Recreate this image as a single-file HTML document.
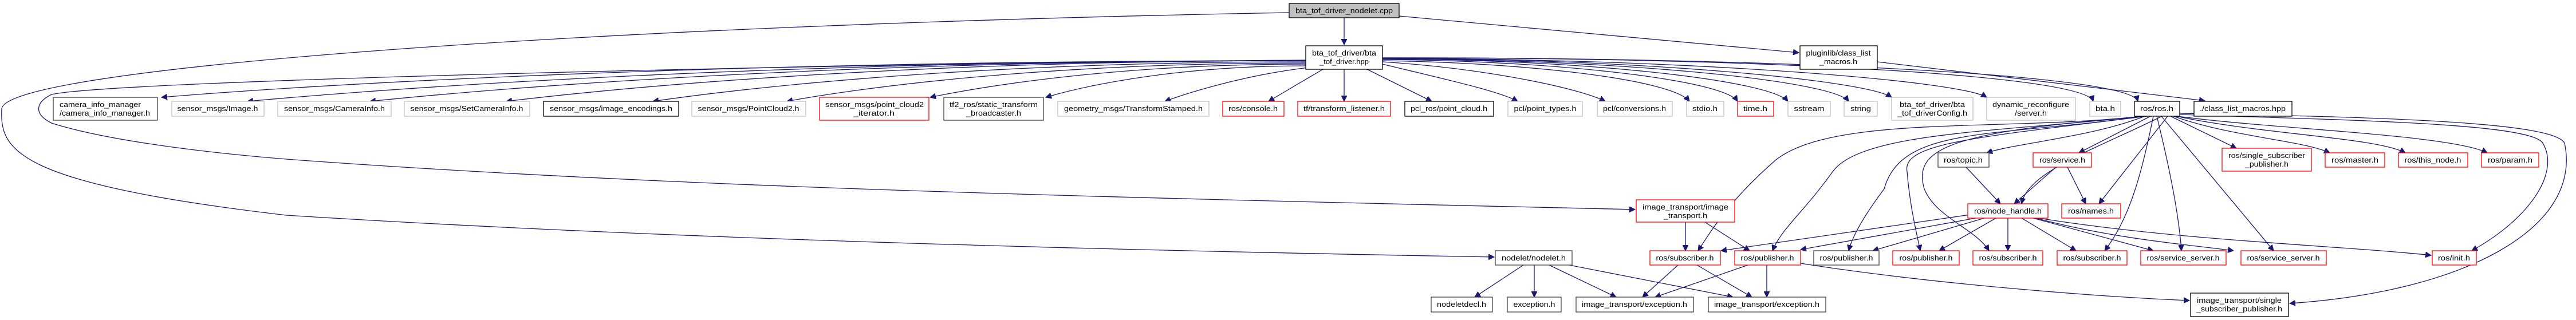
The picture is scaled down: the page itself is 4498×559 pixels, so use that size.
<!DOCTYPE html>
<html><head><meta charset="utf-8"><style>
html,body{margin:0;padding:0;background:#fff;}
svg{display:block;}
text{font-family:"Liberation Sans",sans-serif;font-size:13px;fill:#000;}
.e{fill:none;stroke:#191970;stroke-width:1.3;marker-end:url(#a);}
</style></head><body>
<svg width="4498" height="559" viewBox="0 0 4498 559" xmlns="http://www.w3.org/2000/svg">
<defs><marker id="a" markerUnits="userSpaceOnUse" markerWidth="12" markerHeight="10" refX="10" refY="5" orient="auto"><path d="M0,0 L10,5 L0,10 z" fill="#191970" stroke="#191970"/></marker></defs>
<g>
<path class="e" d="M2347,31 L2347,78"/>
<path class="e" d="M2443,28 L3141,92"/>
<path class="e" d="M3278,108 L3850,176"/>
<path class="e" d="M2251,22 C1000,45 10,120 3,190 C0,260 20,320 500,376 C1200,420 2000,438 2609,449"/>
<path class="e" d="M2280,105 C1500,110 200,140 90,165 C60,180 60,200 90,215 C200,250 400,270 500,278 C1200,330 2000,346 2855,366"/>
<path class="e" d="M2280,106 C1281,106 582,145 282,170"/>
<path class="e" d="M2280,106 C1356,106 709,152 432,177"/>
<path class="e" d="M2280,106 C1463,106 891,152 646,177"/>
<path class="e" d="M2280,106 C1582,106 1093,152 884,177"/>
<path class="e" d="M2280,108 C1710,108 1311,152 1140,177"/>
<path class="e" d="M2280,110 C1827,110 1510,152 1374,177"/>
<path class="e" d="M2280,112 C1952,112 1722,150 1624,170"/>
<path class="e" d="M2280,115 C2053,115 1894,150 1826,170"/>
<path class="e" d="M2285,118 C2180,130 2080,160 2034,177"/>
<path class="e" d="M2310,121 L2215,177"/>
<path class="e" d="M2347,121 L2347,177"/>
<path class="e" d="M2387,121 L2500,177"/>
<path class="e" d="M2414,112 C2530,140 2620,160 2650,177"/>
<path class="e" d="M2414,108 C2600,120 2760,155 2803,177"/>
<path class="e" d="M2414,106 C2680,110 2920,140 2950,177"/>
<path class="e" d="M2414,104 C2720,106 3010,140 3034,177"/>
<path class="e" d="M2414,103 C2770,104 3090,140 3122,177"/>
<path class="e" d="M2414,103 C2820,103 3200,140 3228,177"/>
<path class="e" d="M2414,102 C2860,102 3260,140 3303,170"/>
<path class="e" d="M2414,102 C2940,102 3420,140 3469,170"/>
<path class="e" d="M2414,101 C3050,100 3640,130 3655,177"/>
<path class="e" d="M2414,101 C3100,100 3720,130 3733,177"/>
<!-- ros.h -->
<path class="e" d="M3745,203 C3650,240 3520,250 3469,267"/>
<path class="e" d="M3755,203 L3630,267"/>
<path class="e" d="M3790,203 L3905,259"/>
<path class="e" d="M3795,203 C3900,240 4020,245 4068,267"/>
<path class="e" d="M3800,203 C3950,235 4150,240 4200,267"/>
<path class="e" d="M3802,203 C3960,225 4280,235 4343,267"/>
<path class="e" d="M3806,200 C4100,210 4420,215 4440,250 C4470,300 4420,380 4316,438"/>
<path class="e" d="M3806,198 C4200,205 4460,215 4478,250 C4510,400 4300,510 3998,530"/>
<path class="e" d="M3775,203 C3660,260 3540,300 3530,356"/>
<path class="e" d="M3785,203 L3665,356"/>
<path class="e" d="M3740,203 C3500,230 3200,200 3100,280 C3020,350 2990,400 2965,438"/>
<path class="e" d="M3742,203 C3500,230 3250,230 3200,300 C3150,370 3110,400 3095,438"/>
<path class="e" d="M3745,203 C3480,240 3320,220 3290,330 C3260,370 3235,410 3228,438"/>
<path class="e" d="M3748,203 C3450,240 3320,250 3330,300 C3335,360 3345,400 3353,438"/>
<path class="e" d="M3750,203 C3400,230 3340,260 3360,330 C3380,380 3450,400 3473,438"/>
<path class="e" d="M3760,203 C3740,300 3720,380 3675,438"/>
<path class="e" d="M3766,203 C3790,300 3805,380 3809,438"/>
<path class="e" d="M3774,203 L3970,438"/>
<!-- topic/service -->
<path class="e" d="M3433,292 L3493,356"/>
<path class="e" d="M3590,292 L3517,356"/>
<path class="e" d="M3610,292 L3642,356"/>
<!-- node_handle -->
<path class="e" d="M3440,375 L3005,438"/>
<path class="e" d="M3450,381 L3144,436"/>
<path class="e" d="M3465,381 L3270,438"/>
<path class="e" d="M3485,381 L3386,438"/>
<path class="e" d="M3506,381 L3506,438"/>
<path class="e" d="M3530,381 L3625,438"/>
<path class="e" d="M3550,381 L3760,438"/>
<path class="e" d="M3555,381 C3700,420 3850,430 3900,438"/>
<path class="e" d="M3560,381 C3800,420 4100,430 4245,446"/>
<!-- image_transport -->
<path class="e" d="M2943,388 L2943,438"/>
<path class="e" d="M2977,388 L3055,438"/>
<!-- nodelet -->
<path class="e" d="M2660,463 L2575,519"/>
<path class="e" d="M2679,463 L2679,519"/>
<path class="e" d="M2705,463 L2822,519"/>
<path class="e" d="M2740,463 L3026,519"/>
<!-- subscriber/publisher -->
<path class="e" d="M2930,463 L2868,519"/>
<path class="e" d="M2963,463 L3059,519"/>
<path class="e" d="M3052,463 L2890,519"/>
<path class="e" d="M3085,463 L3085,519"/>
<path class="e" d="M3144,460 C3400,500 3700,520 3823,525"/>
</g>
<g stroke-width="1.3">
<rect x="2251" y="6" width="192" height="25" fill="#bfbfbf" stroke="#000"/><text x="2347" y="23" text-anchor="middle" textLength="170" lengthAdjust="spacingAndGlyphs">bta_tof_driver_nodelet.cpp</text>
<rect x="2280" y="80" width="134" height="41" fill="#fff" stroke="#000"/><text x="2347" y="97" text-anchor="middle" textLength="112" lengthAdjust="spacingAndGlyphs">bta_tof_driver/bta</text><text x="2347" y="112" text-anchor="middle" textLength="86" lengthAdjust="spacingAndGlyphs">_tof_driver.hpp</text>
<rect x="3143" y="80" width="135" height="41" fill="#fff" stroke="#000"/><text x="3210" y="97" text-anchor="middle" textLength="113" lengthAdjust="spacingAndGlyphs">pluginlib/class_list</text><text x="3210" y="112" text-anchor="middle" textLength="66" lengthAdjust="spacingAndGlyphs">_macros.h</text>
<rect x="93" y="170" width="182" height="40" fill="#fff" stroke="#404040"/><text x="104" y="187" textLength="142" lengthAdjust="spacingAndGlyphs">camera_info_manager</text><text x="104" y="202" textLength="158" lengthAdjust="spacingAndGlyphs">/camera_info_manager.h</text>
<rect x="300" y="177" width="161" height="26" fill="#fff" stroke="#bfbfbf"/><text x="380" y="194" text-anchor="middle" textLength="141" lengthAdjust="spacingAndGlyphs">sensor_msgs/Image.h</text>
<rect x="485" y="177" width="198" height="26" fill="#fff" stroke="#bfbfbf"/><text x="584" y="194" text-anchor="middle" textLength="176" lengthAdjust="spacingAndGlyphs">sensor_msgs/CameraInfo.h</text>
<rect x="706" y="177" width="219" height="26" fill="#fff" stroke="#bfbfbf"/><text x="815" y="194" text-anchor="middle" textLength="197" lengthAdjust="spacingAndGlyphs">sensor_msgs/SetCameraInfo.h</text>
<rect x="949" y="177" width="236" height="26" fill="#fff" stroke="#000"/><text x="1067" y="194" text-anchor="middle" textLength="214" lengthAdjust="spacingAndGlyphs">sensor_msgs/image_encodings.h</text>
<rect x="1208" y="177" width="199" height="26" fill="#fff" stroke="#bfbfbf"/><text x="1307" y="194" text-anchor="middle" textLength="177" lengthAdjust="spacingAndGlyphs">sensor_msgs/PointCloud2.h</text>
<rect x="1431" y="170" width="191" height="40" fill="#fff" stroke="#ff0000"/><text x="1441" y="187" textLength="172" lengthAdjust="spacingAndGlyphs">sensor_msgs/point_cloud2</text><text x="1526" y="202" text-anchor="middle" textLength="72" lengthAdjust="spacingAndGlyphs">_iterator.h</text>
<rect x="1648" y="170" width="174" height="40" fill="#fff" stroke="#404040"/><text x="1735" y="187" text-anchor="middle" textLength="154" lengthAdjust="spacingAndGlyphs">tf2_ros/static_transform</text><text x="1735" y="202" text-anchor="middle" textLength="96" lengthAdjust="spacingAndGlyphs">_broadcaster.h</text>
<rect x="1847" y="177" width="264" height="26" fill="#fff" stroke="#bfbfbf"/><text x="1979" y="194" text-anchor="middle" textLength="242" lengthAdjust="spacingAndGlyphs">geometry_msgs/TransformStamped.h</text>
<rect x="2135" y="177" width="107" height="26" fill="#fff" stroke="#ff0000"/><text x="2188" y="194" text-anchor="middle" textLength="86" lengthAdjust="spacingAndGlyphs">ros/console.h</text>
<rect x="2266" y="177" width="162" height="26" fill="#fff" stroke="#ff0000"/><text x="2347" y="194" text-anchor="middle" textLength="142" lengthAdjust="spacingAndGlyphs">tf/transform_listener.h</text>
<rect x="2453" y="177" width="155" height="26" fill="#fff" stroke="#000"/><text x="2530" y="194" text-anchor="middle" textLength="134" lengthAdjust="spacingAndGlyphs">pcl_ros/point_cloud.h</text>
<rect x="2633" y="177" width="130" height="26" fill="#fff" stroke="#bfbfbf"/><text x="2698" y="194" text-anchor="middle" textLength="109" lengthAdjust="spacingAndGlyphs">pcl/point_types.h</text>
<rect x="2789" y="177" width="131" height="26" fill="#fff" stroke="#bfbfbf"/><text x="2854" y="194" text-anchor="middle" textLength="110" lengthAdjust="spacingAndGlyphs">pcl/conversions.h</text>
<rect x="2945" y="177" width="65" height="26" fill="#fff" stroke="#bfbfbf"/><text x="2977" y="194" text-anchor="middle" textLength="44" lengthAdjust="spacingAndGlyphs">stdio.h</text>
<rect x="3034" y="177" width="63" height="26" fill="#fff" stroke="#ff0000"/><text x="3065" y="194" text-anchor="middle" textLength="42" lengthAdjust="spacingAndGlyphs">time.h</text>
<rect x="3122" y="177" width="74" height="26" fill="#fff" stroke="#bfbfbf"/><text x="3159" y="194" text-anchor="middle" textLength="53" lengthAdjust="spacingAndGlyphs">sstream</text>
<rect x="3220" y="177" width="58" height="26" fill="#fff" stroke="#bfbfbf"/><text x="3249" y="194" text-anchor="middle" textLength="36" lengthAdjust="spacingAndGlyphs">string</text>
<rect x="3303" y="170" width="142" height="40" fill="#fff" stroke="#bfbfbf"/><text x="3374" y="187" text-anchor="middle" textLength="114" lengthAdjust="spacingAndGlyphs">bta_tof_driver/bta</text><text x="3374" y="202" text-anchor="middle" textLength="122" lengthAdjust="spacingAndGlyphs">_tof_driverConfig.h</text>
<rect x="3469" y="170" width="155" height="40" fill="#fff" stroke="#bfbfbf"/><text x="3546" y="187" text-anchor="middle" textLength="134" lengthAdjust="spacingAndGlyphs">dynamic_reconfigure</text><text x="3546" y="202" text-anchor="middle" textLength="56" lengthAdjust="spacingAndGlyphs">/server.h</text>
<rect x="3649" y="177" width="54" height="26" fill="#fff" stroke="#bfbfbf"/><text x="3676" y="194" text-anchor="middle" textLength="34" lengthAdjust="spacingAndGlyphs">bta.h</text>
<rect x="3727" y="177" width="79" height="26" fill="#fff" stroke="#000"/><text x="3766" y="194" text-anchor="middle" textLength="58" lengthAdjust="spacingAndGlyphs">ros/ros.h</text>
<rect x="3831" y="177" width="171" height="26" fill="#fff" stroke="#000"/><text x="3916" y="194" text-anchor="middle" textLength="150" lengthAdjust="spacingAndGlyphs">./class_list_macros.hpp</text>
<rect x="3384" y="267" width="89" height="25" fill="#fff" stroke="#404040"/><text x="3428" y="284" text-anchor="middle" textLength="68" lengthAdjust="spacingAndGlyphs">ros/topic.h</text>
<rect x="3550" y="267" width="102" height="25" fill="#fff" stroke="#ff0000"/><text x="3601" y="284" text-anchor="middle" textLength="80" lengthAdjust="spacingAndGlyphs">ros/service.h</text>
<rect x="3880" y="259" width="156" height="40" fill="#fff" stroke="#ff0000"/><text x="3958" y="276" text-anchor="middle" textLength="134" lengthAdjust="spacingAndGlyphs">ros/single_subscriber</text><text x="3958" y="291" text-anchor="middle" textLength="76" lengthAdjust="spacingAndGlyphs">_publisher.h</text>
<rect x="4060" y="267" width="104" height="25" fill="#fff" stroke="#ff0000"/><text x="4112" y="284" text-anchor="middle" textLength="82" lengthAdjust="spacingAndGlyphs">ros/master.h</text>
<rect x="4188" y="267" width="121" height="25" fill="#fff" stroke="#ff0000"/><text x="4248" y="284" text-anchor="middle" textLength="99" lengthAdjust="spacingAndGlyphs">ros/this_node.h</text>
<rect x="4333" y="267" width="100" height="25" fill="#fff" stroke="#ff0000"/><text x="4383" y="284" text-anchor="middle" textLength="78" lengthAdjust="spacingAndGlyphs">ros/param.h</text>
<rect x="3436" y="356" width="140" height="25" fill="#fff" stroke="#ff0000"/><text x="3506" y="373" text-anchor="middle" textLength="118" lengthAdjust="spacingAndGlyphs">ros/node_handle.h</text>
<rect x="3600" y="356" width="103" height="25" fill="#fff" stroke="#ff0000"/><text x="3651" y="373" text-anchor="middle" textLength="80" lengthAdjust="spacingAndGlyphs">ros/names.h</text>
<rect x="2857" y="349" width="172" height="39" fill="#fff" stroke="#ff0000"/><text x="2943" y="366" text-anchor="middle" textLength="150" lengthAdjust="spacingAndGlyphs">image_transport/image</text><text x="2943" y="381" text-anchor="middle" textLength="76" lengthAdjust="spacingAndGlyphs">_transport.h</text>
<rect x="2611" y="438" width="134" height="25" fill="#fff" stroke="#404040"/><text x="2678" y="455" text-anchor="middle" textLength="112" lengthAdjust="spacingAndGlyphs">nodelet/nodelet.h</text>
<rect x="2881" y="438" width="123" height="25" fill="#fff" stroke="#ff0000"/><text x="2942" y="455" text-anchor="middle" textLength="101" lengthAdjust="spacingAndGlyphs">ros/subscriber.h</text>
<rect x="3029" y="438" width="115" height="25" fill="#fff" stroke="#ff0000"/><text x="3086" y="455" text-anchor="middle" textLength="93" lengthAdjust="spacingAndGlyphs">ros/publisher.h</text>
<rect x="3167" y="438" width="114" height="25" fill="#fff" stroke="#404040"/><text x="3224" y="455" text-anchor="middle" textLength="93" lengthAdjust="spacingAndGlyphs">ros/publisher.h</text>
<rect x="3305" y="438" width="116" height="25" fill="#fff" stroke="#ff0000"/><text x="3363" y="455" text-anchor="middle" textLength="93" lengthAdjust="spacingAndGlyphs">ros/publisher.h</text>
<rect x="3445" y="438" width="122" height="25" fill="#fff" stroke="#ff0000"/><text x="3506" y="455" text-anchor="middle" textLength="101" lengthAdjust="spacingAndGlyphs">ros/subscriber.h</text>
<rect x="3592" y="438" width="122" height="25" fill="#fff" stroke="#ff0000"/><text x="3653" y="455" text-anchor="middle" textLength="101" lengthAdjust="spacingAndGlyphs">ros/subscriber.h</text>
<rect x="3738" y="438" width="149" height="25" fill="#fff" stroke="#ff0000"/><text x="3812" y="455" text-anchor="middle" textLength="127" lengthAdjust="spacingAndGlyphs">ros/service_server.h</text>
<rect x="3913" y="438" width="149" height="25" fill="#fff" stroke="#ff0000"/><text x="3987" y="455" text-anchor="middle" textLength="127" lengthAdjust="spacingAndGlyphs">ros/service_server.h</text>
<rect x="4247" y="438" width="77" height="25" fill="#fff" stroke="#ff0000"/><text x="4285" y="455" text-anchor="middle" textLength="56" lengthAdjust="spacingAndGlyphs">ros/init.h</text>
<rect x="2499" y="519" width="107" height="26" fill="#fff" stroke="#404040"/><text x="2552" y="536" text-anchor="middle" textLength="86" lengthAdjust="spacingAndGlyphs">nodeletdecl.h</text>
<rect x="2632" y="519" width="94" height="26" fill="#fff" stroke="#404040"/><text x="2679" y="536" text-anchor="middle" textLength="73" lengthAdjust="spacingAndGlyphs">exception.h</text>
<rect x="2752" y="519" width="205" height="26" fill="#fff" stroke="#404040"/><text x="2854" y="536" text-anchor="middle" textLength="184" lengthAdjust="spacingAndGlyphs">image_transport/exception.h</text>
<rect x="2983" y="519" width="205" height="26" fill="#fff" stroke="#404040"/><text x="3085" y="536" text-anchor="middle" textLength="184" lengthAdjust="spacingAndGlyphs">image_transport/exception.h</text>
<rect x="3825" y="512" width="171" height="41" fill="#fff" stroke="#000"/><text x="3910" y="529" text-anchor="middle" textLength="148" lengthAdjust="spacingAndGlyphs">image_transport/single</text><text x="3910" y="544" text-anchor="middle" textLength="150" lengthAdjust="spacingAndGlyphs">_subscriber_publisher.h</text>
</g>
</svg>
</body></html>
